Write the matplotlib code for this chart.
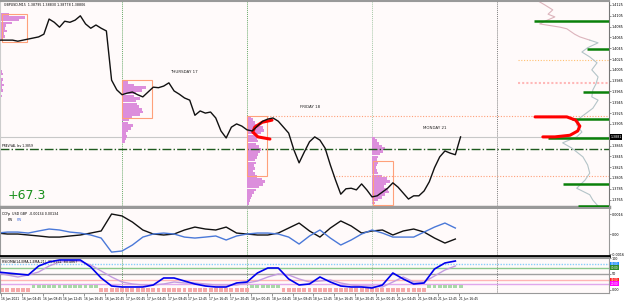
import numpy as np
import matplotlib.pyplot as plt
import matplotlib.transforms as mtransforms
from matplotlib.patches import Rectangle

# GBPUSD hourly closes (x = hours since 16 Jun 00:00, weekend removed)
close = [1.4060, 1.4060, 1.4060, 1.4060, 1.4058, 1.4060, 1.4062, 1.4064, 1.4066, 1.4071,
         1.4099, 1.4093, 1.4084, 1.4095, 1.4093, 1.4097, 1.4105, 1.4090, 1.4082, 1.4088,
         1.4082, 1.4077, 1.3986, 1.3968, 1.3959, 1.3962, 1.3964, 1.3959, 1.3955, 1.3964,
         1.3973, 1.3972, 1.3975, 1.3981, 1.3966, 1.3960, 1.3953, 1.3949, 1.3921, 1.3929,
         1.3925, 1.3927, 1.3916, 1.3892, 1.3879, 1.3899, 1.3905, 1.3901, 1.3894, 1.3892,
         1.3901, 1.3910, 1.3914, 1.3916, 1.3910, 1.3899, 1.3888, 1.3857, 1.3833, 1.3853,
         1.3872, 1.3881, 1.3875, 1.3860, 1.3829, 1.3801, 1.3775, 1.3785, 1.3786, 1.3783,
         1.3794, 1.3783, 1.3770, 1.3772, 1.3779, 1.3786, 1.3796, 1.3788, 1.3777, 1.3766,
         1.3772, 1.3772, 1.3781, 1.3798, 1.3824, 1.3844, 1.3855, 1.3851, 1.3848, 1.3881]
hours = np.arange(len(close))

day_starts = [24, 48, 72]          # 17, 18, 21 Jun
next_day = 96                      # 22 Jun (future)
day_names = ['THURSDAY 17', 'FRIDAY 18', 'MONDAY 21']
day_name_h = [35.9, 60.1, 84.1]
day_name_p = [1.4001, 1.3936, 1.3897]

# daily volume profiles: start hour, top price, volume per bin
prof_step = 0.0005
prof_start = [0, 24, 48, 72]
prof_top = [1.4107, 1.3982, 1.3918, 1.3879]
prof_vol = [
    [12, 28, 22, 15, 9, 8, 10, 7, 8, 5, 3, 0, 0, 0, 0, 0, 0, 0, 0, 0, 0,
     5, 6, 4, 6, 5, 7, 5, 6, 4, 5, 4],
    [6, 12, 24, 20, 14, 12, 18, 14, 15, 17, 20, 21, 18, 10, 7, 6, 11, 9, 6, 4, 5, 4, 3],
    [4, 6, 8, 12, 16, 17, 14, 11, 10, 11, 9, 12, 14, 13, 11, 10, 8, 9, 7, 8, 6, 8,
     10, 15, 18, 16, 12, 9, 7, 5, 4, 3, 2],
    [3, 5, 7, 10, 13, 11, 8, 6, 5, 6, 5, 4, 5, 6, 10, 15, 18, 14, 12, 16, 17, 13, 10, 6, 3],
]

# value area boxes
box_left = [1.0, 24.0, 48.0, 72.2]
box_right = [5.8, 29.8, 51.8, 76.0]
box_top = [1.4108, 1.3986, 1.3920, 1.3836]
box_bottom = [1.4057, 1.3916, 1.3809, 1.3755]

# level lines
va_lines_p = [1.3920, 1.3809]
va_lines_h = [51.8, 64.5]
prev_level = 1.3859
orange_level = 1.4023
pink_level = 1.3981
green_p = [1.4095, 1.4044, 1.3964, 1.3914, 1.3879, 1.3794, 1.3753]
green_h = [103.1, 113.2, 112.5, 110.4, 105.8, 108.6, 111.5]

# red "C" marks
red_l_h = [52.8, 50.9, 49.5, 49.1, 50.1, 52.4]
red_l_p = [1.3912, 1.3908, 1.3899, 1.3890, 1.3881, 1.3877]
red_r_h = [103.3, 109.4, 111.1, 111.9, 111.5, 110.0, 107.1, 104.8]
red_r_p = [1.3918, 1.3918, 1.3912, 1.3901, 1.3892, 1.3884, 1.3881, 1.3881]

# composite profile outline on the right
cp_h = [103.6, 105.2, 106.7, 105.8, 107.1, 105.2, 104.2, 108.1, 109.4, 110.9, 111.9,
        113.8, 115.4, 113.4, 112.3, 113.8, 115.2, 114.2, 115.4, 115.0, 114.4, 114.2,
        115.4, 114.4, 111.9, 111.3, 112.3, 111.3, 108.6, 110.4, 112.5, 113.4, 113.8,
        112.9, 111.3, 113.8, 114.4, 115.4]
cp_p = [1.4134, 1.4125, 1.4116, 1.4108, 1.4103, 1.4095, 1.4090, 1.4084, 1.4081, 1.4071,
        1.4066, 1.4060, 1.4055, 1.4046, 1.4038, 1.4029, 1.4018, 1.4005, 1.3992, 1.3979,
        1.3968, 1.3955, 1.3949, 1.3934, 1.3916, 1.3903, 1.3890, 1.3881, 1.3870, 1.3860,
        1.3844, 1.3829, 1.3814, 1.3801, 1.3786, 1.3774, 1.3764, 1.3753]

# CCFp (units of 1e-4), every 2 hours
ccf_h = np.arange(0, 89, 2)
ccf_usd = [0.8, 0, 0, -0.8, -1.6, -2.5, -2.5, -1.6, -0.8, 0.8,
           2.5, 16.4, 14.8, 9.8, 3.3, 0, -0.8, 0, 3.3, 5.7,
           4.1, 3.3, 5.7, 0.8, 0, -0.8, -0.8, 0.8, 4.9, 9.0,
           2.5, -2.5, 4.9, 10.7, 6.6, 0.8, 2.5, 3.3, -0.8, 2.5,
           4.1, 1.6, -3.3, -7.4, -4.1]
ccf_gbp = [0.8, 1.6, 1.6, 0.8, 2.5, 4.1, 3.3, 1.6, 0.8, -0.8,
           -3.3, -14.8, -13.9, -9.0, -2.5, 0, 0.8, 0, -2.5, -3.3,
           -2.5, -1.6, -4.9, -1.6, 0, 0.8, 0.8, 0, -2.5, -8.2,
           -1.6, 3.3, -3.3, -9.0, -4.9, 0, 3.3, 0.8, -2.5, -2.5,
           -2.5, 1.6, 5.7, 9.0, 4.9]

# RSIOMA, every 2 hours
rsi_h = np.arange(0, 89, 2)
rsi = [56.3, 53.1, 50.0, 46.9, 75.0, 87.5, 93.8, 93.8, 93.8, 71.9,
       37.5, 12.5, 9.4, 9.4, 9.4, 15.6, 37.5, 37.5, 28.1, 18.8,
       12.5, 9.4, 9.4, 21.9, 25.0, 53.1, 68.8, 68.8, 34.4, 15.6,
       18.8, 40.6, 25.0, 12.5, 9.4, 9.4, 6.3, 15.6, 53.1, 34.4,
       18.8, 21.9, 65.6, 84.4, 90.6]
rsi_sig = [53.1, 46.9, 40.6, 46.9, 56.3, 75.0, 87.5, 90.6, 89.1, 78.1,
           59.4, 40.6, 25.0, 18.8, 15.6, 15.6, 18.8, 25.0, 21.9, 21.9,
           18.8, 15.6, 15.6, 15.6, 21.9, 28.1, 40.6, 50.0, 46.9, 34.4,
           25.0, 28.1, 31.3, 21.9, 15.6, 12.5, 12.5, 9.4, 25.0, 40.6,
           25.0, 25.0, 43.8, 62.5, 75.0]
hist_sign = [-1, -1, -1, -1, -1, -1, -1, 1, 1, 1,
             1, 1, 1, 1, 1, 1, 1, 1, 1, 1,
             -1, -1, -1, -1, -1, -1, -1, -1, -1, -1,
             -1, -1, -1, -1, -1, -1, -1, -1, -1, -1,
             -1, -1, -1, -1, -1, -1, -1, -1, -1, 1,
             1, 1, 1, 1, 1, -1, -1, -1, -1, -1,
             -1, -1, -1, -1, -1, -1, -1, -1, -1, -1,
             -1, -1, -1, -1, -1, -1, -1, -1, -1, -1,
             -1, -1, -1, 1, 1, 1, 1, 1, 1, 1]
rsi_levels = [80, 70, 50, 30, 20]
rsi_level_colors = ['#87cefa', '#8cc88c', '#a0a0a0', '#ffb4b4', '#e0a8ec']

x_tick_h = 0.75 + 4 * np.arange(23)
x_tick_labels = ['16 Jun 2021', '16 Jun 04:45', '16 Jun 08:45', '16 Jun 12:45', '16 Jun 16:45',
                 '16 Jun 20:45', '17 Jun 00:45', '17 Jun 04:45', '17 Jun 08:45', '17 Jun 12:45',
                 '17 Jun 16:45', '17 Jun 20:45', '18 Jun 00:45', '18 Jun 04:45', '18 Jun 08:45',
                 '18 Jun 12:45', '18 Jun 16:45', '18 Jun 20:45', '21 Jun 00:45', '21 Jun 04:45',
                 '21 Jun 08:45', '21 Jun 12:45', '21 Jun 16:45']

BG = '#fffafa'
VIOLET = '#dc8edc'
SALMON = '#ffa07a'
W, H = 625, 301
XMIN, XMAX = 0.576, 117.5

fig = plt.figure(figsize=(6.25, 3.01), dpi=100)
fig.patch.set_facecolor('white')

def px_axes(x0, y0, x1, y1):
    return fig.add_axes([x0 / W, 1 - y1 / H, (x1 - x0) / W, (y1 - y0) / H])

ax = px_axes(0, 1, 609, 207)
ax1 = px_axes(0, 209, 609, 256)
ax2 = px_axes(0, 258, 609, 293)

for a in (ax, ax1, ax2):
    a.set_facecolor(BG)
    a.set_xlim(XMIN, XMAX)
    a.yaxis.tick_right()
    a.tick_params(axis='y', labelsize=2.4, length=1.5, width=0.5, color='#666666', pad=0.5)
    for d, c in zip(day_starts, ['#6aaa6a', '#6aaa6a', '#a8c8a8']):
        a.axvline(d, color=c, lw=0.7, ls=(0, (1, 1)), zorder=1)
    a.axvline(next_day, color='#808080', lw=0.7, ls=(0, (1, 1)), zorder=1)
    for s in a.spines.values():
        s.set_color('#999999')
        s.set_linewidth(0.8)

# ---------------- main price window ----------------
ax.set_ylim(1.37513, 1.41324)
ax.set_xticks([])
price_ticks = np.arange(1.3765, 1.41251, 0.002)
ax.set_yticks(price_ticks)
# the tick next to the bid box is covered by it, as in the terminal
ax.set_yticklabels(['' if abs(v - close[-1]) < 0.0008 else '%.4f' % v for v in price_ticks])
ax.spines['top'].set_linewidth(1.5)
ax.spines['bottom'].set_linewidth(2.5)
ax.spines['left'].set_color('#cccccc')
ax.spines['right'].set_color('#777777')

for st, top, vol in zip(prof_start, prof_top, prof_vol):
    levels = top - prof_step * np.arange(len(vol))
    ax.barh(levels, np.array(vol) / 5.21, height=prof_step * 0.95, left=st,
            color=VIOLET, lw=0, zorder=2)

for l, r, t, b in zip(box_left, box_right, box_top, box_bottom):
    ax.add_patch(Rectangle((l, b), r - l, t - b, fill=False, ec=SALMON, lw=0.8, zorder=3))

for p, h in zip(va_lines_p, va_lines_h):
    ax.plot([h, XMAX], [p, p], color=SALMON, lw=0.8, ls=(0, (1, 1.5)), zorder=2)
ax.plot([100, XMAX], [orange_level, orange_level], color='#ffc070', lw=0.8, ls=(0, (1, 1.5)))
ax.plot([100, XMAX], [pink_level, pink_level], color='#ffb8b8', lw=1.5, ls=(0, (1, 1)))

ax.axhline(close[-1], color='#c8c8c8', lw=0.8, zorder=1)
ax.axhline(prev_level, color='#1e5a1e', lw=1.0, ls='-.', zorder=2)
tr = mtransforms.blended_transform_factory(ax.transAxes, ax.transData)
ax.text(0.003, prev_level + 0.0002, 'PREV.VAL lev 1.3859', fontsize=2.2, transform=tr, va='bottom')

ax.plot(cp_h[:12], cp_p[:12], color='#dcb4bc', lw=0.8, zorder=2)
ax.plot(cp_h[11:], cp_p[11:], color='#b4c4c8', lw=0.8, zorder=2)
for p, h in zip(green_p, green_h):
    ax.plot([h, XMAX], [p, p], color='#0a800a', lw=1.8, solid_capstyle='butt', zorder=3)

ax.plot(red_l_h, red_l_p, color='#ff0000', lw=2.2, zorder=4, solid_capstyle='round')
ax.plot(red_r_h, red_r_p, color='#ff0000', lw=2.2, zorder=4, solid_capstyle='round')

ax.plot(hours, close, color='#111111', lw=1.0, zorder=5)

for name, h, p in zip(day_names, day_name_h, day_name_p):
    ax.text(h, p, name, fontsize=2.9, ha='center', va='center', color='#222222')

ax.text(0.012, 0.055, '+67.3', transform=ax.transAxes, fontsize=9, color='#19901c',
        ha='left', va='center')
ax.text(0.006, 0.988, 'GBPUSD,M15  1.38795 1.38830 1.38778 1.38806', transform=ax.transAxes,
        fontsize=2.3, va='top', ha='left')
ax.text(1.002, close[-1], '%.4f' % close[-1], transform=tr, fontsize=2.3, color='white',
        va='center', ha='left', zorder=10,
        bbox=dict(boxstyle='square,pad=0.2', fc='black', ec='none'))

# ---------------- CCFp window ----------------
ax1.set_ylim(-18.0, 20.5)
ax1.set_xticks([])
ax1.set_yticks([16.4, 0, -16.4])
ax1.set_yticklabels(['0.0016', '0.00', '-0.0016'])
ax1.spines['top'].set_visible(False)
ax1.spines['bottom'].set_color('black')
ax1.spines['bottom'].set_linewidth(2)
ax1.plot(ccf_h, ccf_usd, color='#111111', lw=1.0)
ax1.plot(ccf_h, ccf_gbp, color='#4a78d8', lw=1.0)
ax1.text(0.004, 0.93, 'CCFp  USD GBP  -0.00134 0.00134', transform=ax1.transAxes,
         fontsize=2.3, va='top')
ax1.text(0.012, 0.8, 'PW', transform=ax1.transAxes, fontsize=2.3, va='top', color='#111111')
ax1.text(0.028, 0.8, 'PW', transform=ax1.transAxes, fontsize=2.3, va='top', color='#3a68d8')

# ---------------- RSIOMA window ----------------
ax2.set_ylim(-9.4, 100)
ax2.set_yticks([100, 50, 0])
ax2.set_yticklabels(['100', '50', '0.00'])
ax2.spines['top'].set_linewidth(1.5)
for lv, c in zip(rsi_levels, rsi_level_colors):
    ax2.axhline(lv, color=c, lw=1.0, ls=(0, (1, 1)) if lv == 80 else '-', zorder=1)
for h, s in zip(hours, hist_sign):
    if s > 0:
        ax2.bar(h, 10, bottom=6, width=0.75, color='#a8d8a8', lw=0, zorder=2)
    else:
        ax2.bar(h, -12, bottom=6, width=0.75, color='#f6a8a8', lw=0, zorder=2)
ax2.plot(rsi_h, rsi_sig, color='#c39be0', lw=1.0, zorder=3)
ax2.plot(rsi_h, rsi, color='#0000ee', lw=1.2, zorder=4)
ax2.text(0.004, 0.95, 'RSIOMA(14,EMA,1,EMA,21)  95.8961  84.4867', transform=ax2.transAxes,
         fontsize=2.3, va='top')
tr2 = mtransforms.blended_transform_factory(ax2.transAxes, ax2.transData)
for lv, c in zip([80, 70, 30, 20], ['#1e90ff', '#2e8b2e', '#ff2020', '#ff00ff']):
    ax2.text(1.003, lv, '%.2f' % lv, transform=tr2, fontsize=2.0, color='white', va='center',
             ha='left', zorder=10, bbox=dict(boxstyle='square,pad=0.15', fc=c, ec='none'))

ax2.set_xticks(x_tick_h)
ax2.set_xticklabels(x_tick_labels)
ax2.tick_params(axis='x', labelsize=2.2, length=2, width=0.5, color='#666666', pad=1)
plt.setp(ax2.get_xticklabels(), ha='left')

plt.savefig('out.png', dpi=100)
